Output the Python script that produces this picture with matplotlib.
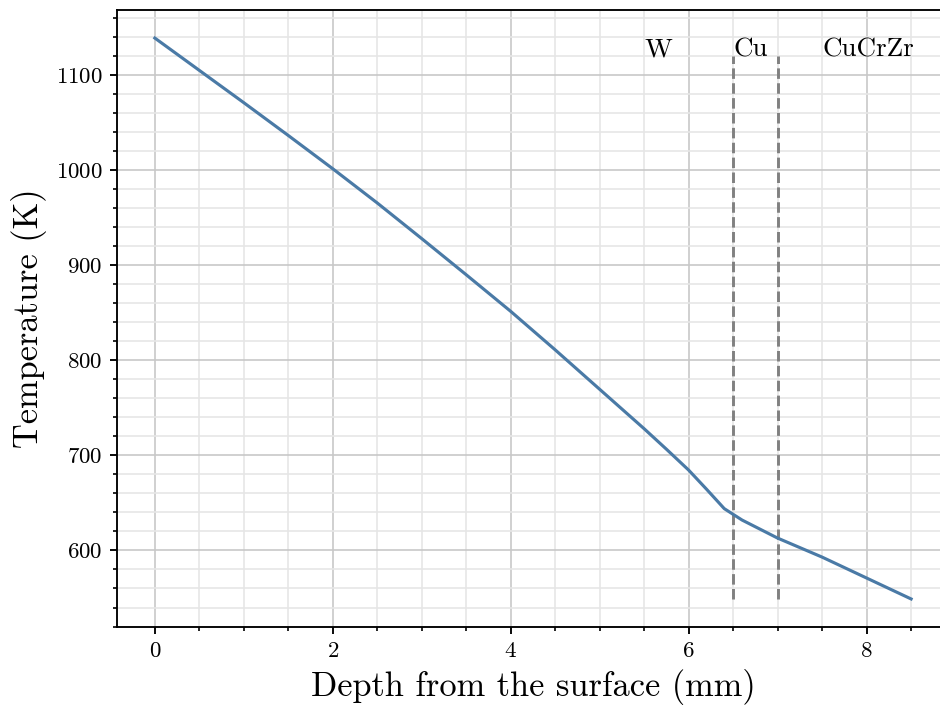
import matplotlib
matplotlib.use("Agg")
import matplotlib.pyplot as plt
from matplotlib.ticker import MultipleLocator

# Temperature profile through the plasma-facing component
depth_mm = [0.0, 0.5, 1.0, 1.5, 2.0, 2.5, 3.0, 3.5, 4.0, 4.5, 5.0, 5.5, 5.75,
            6.0, 6.2, 6.4, 6.6, 7.0, 7.5, 8.0, 8.5]
temperature_K = [1139, 1105, 1071, 1036.5, 1001.5, 965.5, 928, 890, 851.5,
                 811, 769.5, 728, 706.5, 684.5, 664.5, 644, 632, 613, 593, 571, 549]

# Material layers: label and the depth where its label starts
layer_names = ["W", "Cu", "CuCrZr"]
layer_label_x = [5.5, 6.5, 7.5]
layer_label_y = 1120
# Interfaces between the layers (mm)
interfaces_mm = [6.5, 7.0]

plt.rcParams["font.family"] = ["cmr10", "DejaVu Serif"]
plt.rcParams["axes.formatter.use_mathtext"] = True

fig = plt.figure(figsize=(940 / 150, 710 / 150), dpi=150)
ax = fig.add_axes([0.1245, 0.1169, 0.885, 0.869])

ax.plot(depth_mm, temperature_K, color="#4a7aa6", lw=1.5, zorder=3)
ax.vlines(interfaces_mm, min(temperature_K), layer_label_y,
          colors="#808080", linestyles=(0, (3.6, 1.5)), lw=1.4, zorder=2)

for name, lx in zip(layer_names, layer_label_x):
    ax.text(lx, layer_label_y, name, fontsize=13, ha="left", va="baseline")

ax.set_xlabel("Depth from the surface (mm)", fontsize=16.5)
ax.set_ylabel("Temperature (K)", fontsize=16.5)

ax.xaxis.set_major_locator(MultipleLocator(2))
ax.xaxis.set_minor_locator(MultipleLocator(0.5))
ax.yaxis.set_major_locator(MultipleLocator(100))
ax.yaxis.set_minor_locator(MultipleLocator(20))

ax.tick_params(which="major", labelsize=11, length=3.5, width=0.9)
ax.tick_params(which="minor", length=2, width=0.8)
ax.grid(which="major", color="#c8c8c8", lw=0.8, zorder=0)
ax.grid(which="minor", color="#e6e6e6", lw=0.8, zorder=0)
ax.set_axisbelow(True)
for s in ax.spines.values():
    s.set_linewidth(0.9)

fig.savefig("out.png", dpi=150)
